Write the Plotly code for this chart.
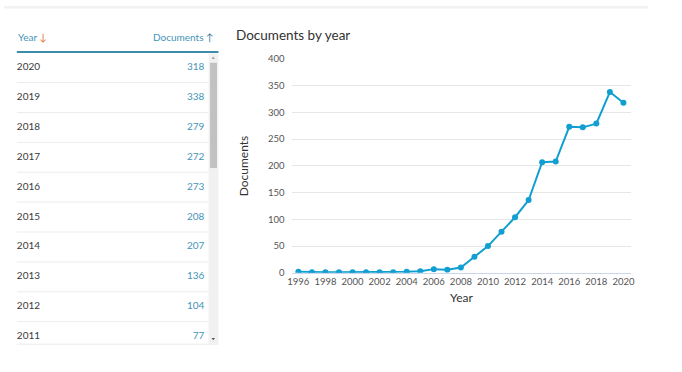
import plotly.graph_objects as go

# ---- data ----
years = [1996, 1997, 1998, 1999, 2000, 2001, 2002, 2003, 2004, 2005, 2006, 2007,
         2008, 2009, 2010, 2011, 2012, 2013, 2014, 2015, 2016, 2017, 2018, 2019, 2020]
documents = [2, 1, 1, 1, 1, 1, 1, 1, 2, 3, 7, 6,
             10, 30, 50, 77, 104, 136, 207, 208, 273, 272, 279, 338, 318]
x_tick_vals = list(range(1996, 2021, 2))
y_tick_vals = list(range(0, 401, 50))
# rows visible in the scrolled table (newest first)
table_years = [2020, 2019, 2018, 2017, 2016, 2015, 2014, 2013, 2012, 2011]
table_docs = [318, 338, 279, 272, 273, 208, 207, 136, 104, 77]

W, H = 682, 372
FONT = "Lato"
LINE = "#109fd0"
TEAL = "#4494b8"


def px(x):
    return x / W


def py(y):
    return 1 - y / H


row_idx = list(range(len(table_years)))

fig = go.Figure()

# ---- chart ----
fig.add_trace(go.Scatter(
    x=years, y=documents, mode="lines+markers",
    line=dict(color=LINE, width=2),
    marker=dict(color=LINE, size=6),
    xaxis="x", yaxis="y", showlegend=False, hoverinfo="x+y",
))

# ---- table cells ----
fig.add_trace(go.Scatter(
    x=[0.0] * len(table_years), y=row_idx, text=[str(v) for v in table_years],
    mode="text", textposition="middle right",
    textfont=dict(family=FONT, size=10, color="#3a3a3a"),
    xaxis="x2", yaxis="y2", showlegend=False, hoverinfo="skip", cliponaxis=False,
))
fig.add_trace(go.Scatter(
    x=[0.93] * len(table_docs), y=row_idx, text=[str(v) for v in table_docs],
    mode="text", textposition="middle left",
    textfont=dict(family=FONT, size=10, color=TEAL),
    xaxis="x2", yaxis="y2", showlegend=False, hoverinfo="skip", cliponaxis=False,
))

row0, rowh = 63.5, 30.8
top_px, bot_px = 48, 348
r_top = (top_px - row0) / rowh
r_bot = (bot_px - row0) / rowh

shapes = []
# top light band
shapes.append(dict(type="rect", xref="paper", yref="paper", x0=0, x1=px(652),
                   y0=py(0), y1=py(2.5), fillcolor="#f2f2f2", line=dict(width=0), layer="below"))
# row separators
for i in range(len(table_years) - 1):
    shapes.append(dict(type="line", xref="x2", yref="y2", x0=0, x1=0.95,
                       y0=i + 0.5, y1=i + 0.5, line=dict(color="#ececec", width=1)))
# bottom border of table
shapes.append(dict(type="line", xref="paper", yref="paper", x0=px(13), x1=px(217),
                   y0=py(348.5), y1=py(348.5), line=dict(color="#ececec", width=1)))
# header line
shapes.append(dict(type="line", xref="paper", yref="paper", x0=px(13), x1=px(217),
                   y0=py(47.3), y1=py(47.3), line=dict(color="#3a8ca8", width=2)))
# scrollbar track
shapes.append(dict(type="rect", xref="paper", yref="paper", x0=px(207), x1=px(217),
                   y0=py(49), y1=py(348), fillcolor="#f1f1f1", line=dict(width=0)))
# scrollbar thumb
shapes.append(dict(type="rect", xref="paper", yref="paper", x0=px(208.5), x1=px(215.5),
                   y0=py(58.5), y1=py(167), fillcolor="#c1c1c1", line=dict(width=0)))
# arrows
shapes.append(dict(type="path", xref="paper", yref="paper",
                   path=f"M {px(210)} {py(54.5)} L {px(213.5)} {py(54.5)} L {px(211.75)} {py(52)} Z",
                   fillcolor="#a3a3a3", line=dict(width=0)))
shapes.append(dict(type="path", xref="paper", yref="paper",
                   path=f"M {px(210)} {py(342)} L {px(213.5)} {py(342)} L {px(211.75)} {py(344.5)} Z",
                   fillcolor="#505050", line=dict(width=0)))

annotations = [
    dict(text="Documents by year", x=px(233), y=py(30), xref="paper", yref="paper",
         xanchor="left", yanchor="middle", showarrow=False,
         font=dict(family=FONT, size=13.5, color="#323232")),
    dict(text="Documents", x=px(242), y=py(165), xref="paper", yref="paper",
         xanchor="center", yanchor="middle", textangle=-90, showarrow=False,
         font=dict(family=FONT, size=12, color="#333333")),
    dict(text="Year", x=px(463), y=py(300), xref="paper", yref="paper",
         xanchor="center", yanchor="middle", showarrow=False,
         font=dict(family=FONT, size=12, color="#333333")),
    dict(text="Year <span style='color:#e8703a'>↓</span>", x=px(12), y=py(32),
         xref="paper", yref="paper", xanchor="left", yanchor="middle", showarrow=False,
         font=dict(family=FONT, size=10, color=TEAL)),
    dict(text="Documents <span style='color:#3a7fa0'>↑</span>", x=px(215), y=py(32),
         xref="paper", yref="paper", xanchor="right", yanchor="middle", showarrow=False,
         font=dict(family=FONT, size=10, color=TEAL)),
]

fig.update_layout(
    width=W, height=H, margin=dict(l=0, r=0, t=0, b=0),
    paper_bgcolor="white", plot_bgcolor="white",
    font=dict(family=FONT, size=10, color="#666666"),
    xaxis=dict(domain=[px(291), px(634.3)], range=[1995.5, 2020.55],
               tickvals=x_tick_vals, showgrid=False, zeroline=False,
               showline=True, linecolor="#ccd6eb", linewidth=1,
               ticks="", tickfont=dict(family=FONT, size=9.5, color="#555555"),
               anchor="y"),
    yaxis=dict(domain=[py(275), py(54.5)], range=[0, 400], tickvals=y_tick_vals,
               showgrid=True, gridcolor="#e6e6e6", zeroline=False, showline=False,
               ticks="", ticklabelstandoff=6,
               tickfont=dict(family=FONT, size=9.5, color="#555555"), anchor="x"),
    xaxis2=dict(domain=[px(13), px(217)], range=[0, 1], visible=False, anchor="y2",
                fixedrange=True),
    yaxis2=dict(domain=[py(bot_px), py(top_px)], range=[r_bot, r_top], visible=False,
                anchor="x2", fixedrange=True),
    shapes=shapes, annotations=annotations,
)

fig.write_html(
    "out.html",
    config={"displayModeBar": False},
    post_script="document.body.style.margin='0';document.body.style.overflow='hidden';",
)
